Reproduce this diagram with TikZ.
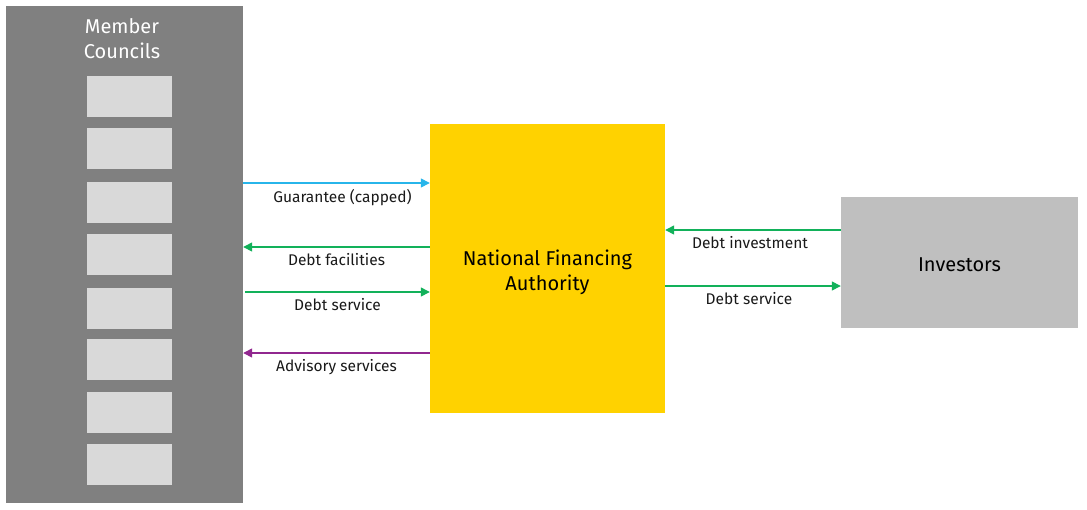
\documentclass[tikz,border=0pt]{standalone}
\usepackage{fontspec}
\setmainfont{Fira Sans}
\usetikzlibrary{arrows.meta}
\definecolor{eyyellow}{HTML}{FFD200}
\definecolor{darkgrey}{HTML}{808080}
\definecolor{lightgrey}{HTML}{D9D9D9}
\definecolor{midgrey}{HTML}{BFBFBF}
\definecolor{skyblue}{HTML}{27B5EA}
\definecolor{flowgreen}{HTML}{12B15A}
\definecolor{plum}{HTML}{91278F}
\tikzset{
    block/.style={inner sep=0pt, align=center},
    flow/.style={line width=1.4pt, -{Triangle[length=9pt,width=9pt]}},
    lbl/.style={below=2pt, font=\fontsize{15.5}{18}\selectfont, text=black!90},
    big/.style={font=\fontsize{20}{25}\selectfont, align=center}
}
\begin{document}
\begin{tikzpicture}[x=1pt,y=-1pt]
        \useasboundingbox (0,0) rectangle (1087,509);

        \node[block, fill=darkgrey, minimum width=237pt, minimum height=497pt] (members) at (124.5,254.5) {};
        \node[big, text=white] (memtitle) at (122,39) {Member\\Councils};
        \foreach \y [count=\i] in {96.5,148.5,202,254.5,308,359,412.5,464.5}
            \node[block, fill=lightgrey, minimum width=85pt, minimum height=41pt] (council\i) at (129,\y) {};

        \node[block, fill=eyyellow, minimum width=235pt, minimum height=289pt] (nfa) at (547.5,268.5) {};
        \node[big] (nfatext) at ([yshift=-4pt]nfa.center) {National Financing\\Authority};
        \node[block, fill=midgrey, minimum width=237pt, minimum height=131pt] (investors) at (959.5,262.5) {};
        \node[big] (invtext) at ([yshift=-2pt]investors.center) {Investors};

        \draw[flow, skyblue] ([yshift=71.5pt]members.east) -- ([yshift=85.5pt]nfa.west)
            node[lbl, midway, xshift=6pt] {Guarantee (capped)};
        \draw[flow, flowgreen] ([yshift=21.5pt]nfa.west) -- ([yshift=7.5pt]members.east)
            node[lbl, midway] {Debt facilities};
        \draw[flow, flowgreen] ([xshift=2pt,yshift=-37.5pt]members.east) -- ([yshift=-23.5pt]nfa.west)
            node[lbl, midway] {Debt service};
        \draw[flow, plum] ([yshift=-84.5pt]nfa.west) -- ([yshift=-98.5pt]members.east)
            node[lbl, midway] {Advisory services};

        \draw[flow, flowgreen] ([yshift=32.5pt]investors.west) -- ([yshift=38.5pt]nfa.east)
            node[lbl, midway, xshift=-3pt] {Debt investment};
        \draw[flow, flowgreen] ([yshift=-17.5pt]nfa.east) -- ([yshift=-23.5pt]investors.west)
            node[lbl, midway, xshift=-4pt] {Debt service};
    \end{tikzpicture}
\end{document}
